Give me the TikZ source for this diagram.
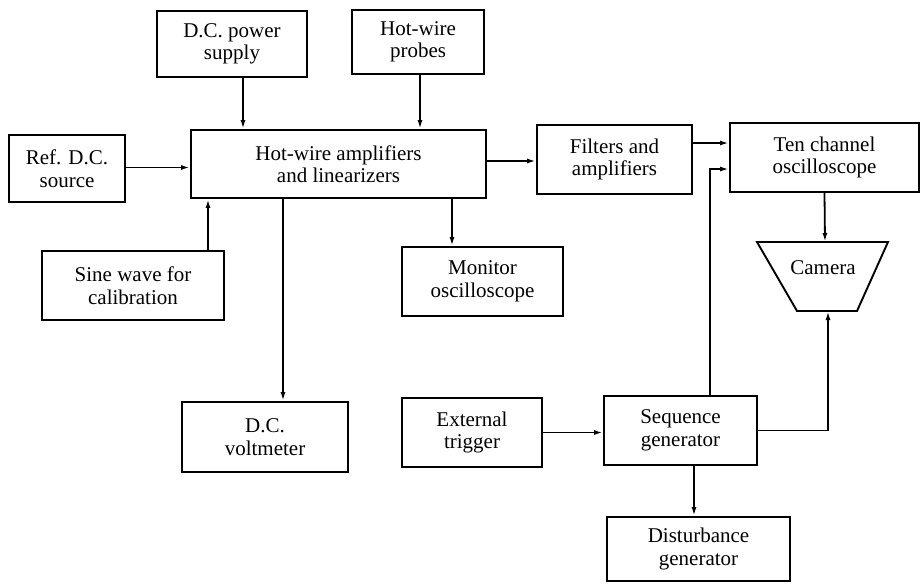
\documentclass[tikz,border=0pt]{standalone}
\usepackage{fontspec}
\setmainfont{Liberation Serif}
\usetikzlibrary{arrows.meta,calc}
\begin{document}
\begin{tikzpicture}[x=1pt,y=-1pt,
  blk/.style={draw,line width=1.9pt,rectangle,inner sep=0pt,align=center,
    font=\fontsize{21}{22.5}\selectfont},
  arr/.style={line width=1.8pt,-{Latex[length=9pt,width=5pt]}},
  ln/.style={line width=1.8pt}]
\useasboundingbox (0,0) rectangle (921,584);
\node[blk,minimum width=150pt,minimum height=66pt] (dcp) at (232,44) {D.C. power\\supply};
\node[blk,minimum width=132pt,minimum height=64pt] (probes) at (418,42) {Hot-wire\\probes};
\node[blk,minimum width=116pt,minimum height=67pt] (ref) at (67,168.5) {Ref. D.C.\\source};
\node[blk,minimum width=295pt,minimum height=68pt] (amp) at (338.5,164) {Hot-wire amplifiers\\and linearizers};
\node[blk,minimum width=182pt,minimum height=69pt] (sine) at (133,285.5) {Sine wave for\\calibration};
\node[blk,minimum width=166pt,minimum height=70pt] (volt) at (265,437) {D.C.\\voltmeter};
\node[blk,minimum width=161pt,minimum height=69pt] (mon) at (482.5,281.5) {Monitor\\oscilloscope};
\node[blk,minimum width=155pt,minimum height=69pt] (filt) at (614.5,159.5) {Filters and\\amplifiers};
\node[blk,minimum width=189pt,minimum height=69pt] (ten) at (824.5,157.5) {Ten channel\\oscilloscope};
\node[blk,minimum width=153pt,minimum height=69pt] (seq) at (680.5,430.5) {Sequence\\generator};
\node[blk,minimum width=140pt,minimum height=69pt] (trig) at (472,432.5) {External\\trigger};
\node[blk,minimum width=183pt,minimum height=64pt] (dist) at (698.5,549) {Disturbance\\generator};
% camera
\draw[line width=1.9pt] (757,242) -- (888,242) -- (857,311) -- (797,311) -- cycle;
\node[font=\fontsize{21}{22.5}\selectfont,inner sep=0pt] (cam) at (823,268) {Camera};
\coordinate (camT) at (825,242);
\coordinate (camB) at (828,311);
% connectors
\draw[arr] ([xshift=11pt]dcp.south) -- ([xshift=11pt]dcp.south |- amp.north);
\draw[arr] ([xshift=2pt]probes.south) -- ([xshift=2pt]probes.south |- amp.north);
\draw[arr] ([yshift=1pt]ref.east) -- ([yshift=1pt]ref.east -| amp.west);
\draw[arr] ([xshift=75pt]sine.north) -- ([xshift=75pt]sine.north |- amp.south);
\draw[arr] ([xshift=-55.5pt]amp.south) -- ([xshift=-55.5pt]amp.south |- volt.north);
\draw[arr] ([xshift=113.5pt]amp.south) -- ([xshift=113.5pt]amp.south |- mon.north);
\draw[arr] ([yshift=3pt]amp.east) -- ([yshift=3pt]amp.east -| filt.west);
\draw[arr] ([yshift=16.5pt]filt.east) -- ([yshift=16.5pt]filt.east -| ten.west);
\draw[arr] ([xshift=29.5pt]seq.north) |- ([yshift=-11.5pt]ten.west);
\draw[arr] (ten.south) -- (camT);
\draw[arr] (seq.east) -| (camB);
\draw[arr] (trig.east) -- (trig.east -| seq.west);
\draw[arr] ([xshift=13.5pt]seq.south) -- ([xshift=13.5pt]seq.south |- dist.north);
\end{tikzpicture}
\end{document}
